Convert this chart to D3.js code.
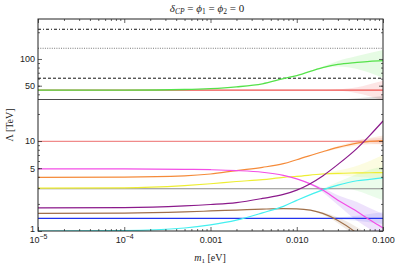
<!DOCTYPE html>
<html>
<head>
<meta charset="utf-8">
<script src="https://cdn.jsdelivr.net/npm/d3@7"></script>
<style>
  body { margin: 0; background: #fff; }
  svg { display: block; }
  .tick text { font-family: "Liberation Sans", Arial, sans-serif; font-size: 9px; fill: #222; }
  .tick line { stroke: #222; stroke-width: 0.7; }
  .lbl { font-family: "Liberation Serif", "Times New Roman", serif; font-size: 10px; fill: #222; }
</style>
</head>
<body>
<svg width="400" height="267"></svg>
<script>
// sample points along m1 [eV]
var m1 = [1e-5, 1e-4, 5e-4, 1e-3, 2e-3, 4e-3, 7e-3, 0.01, 0.02, 0.03, 0.05, 0.07, 0.1];

// upper panel (Lambda in TeV)
var dashDot = 216, dotted = 132, dashed = 60.7;
var red   = [44.5, 44.5, 44.5, 44.5, 44.5, 44.5, 44.5, 44.5, 44.5, 44.5, 44.5, 44.5, 44.5];
var green = [44.5, 44.6, 45.3, 46.3, 48.5, 52.5, 60, 65, 80, 87, 91.5, 94, 95.7];
var black = [34.6, 34.6, 34.6, 34.6, 34.6, 34.6, 34.6, 34.6, 34.6, 34.6, 34.6, 34.6, 34.6];

// lower panel
var pink    = [9.9, 9.9, 9.9, 9.9, 9.9, 9.9, 9.9, 9.9, 9.9, 9.9, 9.9, 9.9, 9.9];
var magenta = [4.9, 4.9, 4.85, 4.8, 4.7, 4.5, 4.15, 3.8, 2.85, 2.2, 1.65, 1.33, 1.08];
var orange  = [3.95, 3.97, 4.1, 4.3, 4.7, 5.1, 5.6, 6.2, 7.6, 8.5, 9.5, 9.9, 10.1];
var yellow  = [3.0, 3.02, 3.2, 3.35, 3.55, 3.72, 3.95, 4.05, 4.3, 4.38, 4.42, 4.44, 4.45];
var gray    = [2.95, 2.95, 2.95, 2.95, 2.95, 2.95, 2.95, 2.95, 2.95, 2.95, 2.95, 2.95, 2.95];
var purple  = [1.81, 1.82, 1.9, 1.97, 2.07, 2.3, 2.55, 2.85, 4.1, 5.5, 8.3, 11.5, 16.7];
var brown   = [1.57, 1.58, 1.63, 1.67, 1.71, 1.75, 1.77, 1.76, 1.57, 1.31, 0.94, 0.7, 0.5];
var blue    = [1.38, 1.38, 1.38, 1.38, 1.38, 1.38, 1.38, 1.38, 1.38, 1.38, 1.38, 1.38, 1.38];
var cyan    = [1.0, 1.01, 1.08, 1.17, 1.32, 1.59, 1.88, 2.19, 2.87, 3.24, 3.62, 3.75, 3.9];

// shaded bands at large m1
var bandM1 = [0.01, 0.02, 0.03, 0.05, 0.07, 0.1];
var greenLo = [65, 79, 82, 77, 70, 61],          greenHi = [65, 82, 95, 108, 117, 126];
var redLo = [44.5, 44.5, 44, 41, 38, 34],        redHi = [44.5, 44.5, 45.5, 48, 52, 57];
var blackLo = [34.6, 34.6, 34.6, 34.6, 34.6, 34.6], blackHi = [34.6, 34.7, 35, 36, 37, 38];
var pinkLo = [9.9, 9.9, 9.8, 9.6, 9.4, 9.2],      pinkHi = [9.9, 9.9, 10.0, 10.3, 10.6, 10.9];
var orangeLo = [6.2, 7.5, 8.2, 8.9, 9.2, 9.2],    orangeHi = [6.2, 7.7, 8.8, 10.1, 10.8, 11.5];
var yellowLo = [4.05, 4.25, 4.2, 4.0, 3.9, 3.8],  yellowHi = [4.05, 4.4, 4.7, 5.3, 6.0, 7.0];
var cyanLo = [2.19, 2.8, 3.0, 2.8, 2.5, 2.2],     cyanHi = [2.19, 2.95, 3.5, 4.3, 4.8, 5.2];
var magentaLo = [3.8, 2.7, 1.95, 1.3, 1.05, 0.85], magentaHi = [3.8, 3.0, 2.5, 2.1, 1.8, 1.55];
var brownLo = [1.76, 1.52, 1.22, 0.82, 0.55, 0.35], brownHi = [1.76, 1.62, 1.42, 1.1, 0.9, 0.72];
var blueLo = [1.38, 1.38, 1.35, 1.3, 1.25, 1.2],  blueHi = [1.38, 1.38, 1.42, 1.48, 1.55, 1.62];

var xMajor = [1e-5, 1e-4, 1e-3, 1e-2, 1e-1];
var loMajor = [1, 5, 10];
var hiMajor = [50, 100];

var svg = d3.select("svg");
var L = 38, R = 383, T = 19, B = 231, MID = 100;

var x = d3.scaleLog().domain([1e-5, 0.1]).range([L, R]);
var yLo = d3.scaleLog().domain([1, 28.6]).range([B, MID]);
var yHi = d3.scaleLog().domain([34.5, 282]).range([MID, T]);

var defs = svg.append("defs");
defs.append("clipPath").attr("id", "clipHi").append("rect")
  .attr("x", L).attr("y", T).attr("width", R - L).attr("height", MID - T);
defs.append("clipPath").attr("id", "clipLo").append("rect")
  .attr("x", L).attr("y", MID).attr("width", R - L).attr("height", B - MID);

var gHi = svg.append("g").attr("clip-path", "url(#clipHi)");
var gLo = svg.append("g").attr("clip-path", "url(#clipLo)");

function band(g, y, lo, hi, col, op) {
  var pts = bandM1.map(function(m, i) { return {m: m, lo: lo[i], hi: hi[i]}; });
  g.append("path").datum(pts)
    .attr("fill", col).attr("fill-opacity", op)
    .attr("d", d3.area().curve(d3.curveMonotoneX)
      .x(function(d) { return x(d.m); })
      .y0(function(d) { return y(d.lo); })
      .y1(function(d) { return y(d.hi); }));
}

function curve(g, y, vals, col, w) {
  var pts = m1.map(function(m, i) { return {m: m, v: vals[i]}; });
  g.append("path").datum(pts)
    .attr("fill", "none").attr("stroke", col).attr("stroke-width", w || 1.2)
    .attr("d", d3.line().curve(d3.curveMonotoneX)
      .x(function(d) { return x(d.m); })
      .y(function(d) { return y(d.v); }));
}

function hline(g, y, v, dash, col) {
  g.append("line")
    .attr("x1", L).attr("x2", R).attr("y1", y(v)).attr("y2", y(v))
    .attr("stroke", col).attr("stroke-width", 1)
    .attr("stroke-dasharray", dash);
}

// upper panel
band(gHi, yHi, greenLo, greenHi, "#55e24a", 0.15);
band(gHi, yHi, redLo, redHi, "#f0524f", 0.15);
band(gHi, yHi, blackLo, blackHi, "#555", 0.2);
hline(gHi, yHi, dashDot, "3,2,1,2", "#111");
hline(gHi, yHi, dotted, "1,1.3", "#777");
hline(gHi, yHi, dashed, "3,2", "#111");
curve(gHi, yHi, red, "#f0524f", 1.3);
curve(gHi, yHi, green, "#55e24a", 1.3);
curve(gHi, yHi, black, "#111", 1.3);

// lower panel
band(gLo, yLo, yellowLo, yellowHi, "#eeee33", 0.15);
band(gLo, yLo, cyanLo, cyanHi, "#7be87b", 0.15);
band(gLo, yLo, magentaLo, magentaHi, "#a060f0", 0.18);
band(gLo, yLo, pinkLo, pinkHi, "#f08a8a", 0.18);
band(gLo, yLo, orangeLo, orangeHi, "#f58b3a", 0.15);
band(gLo, yLo, brownLo, brownHi, "#a0704a", 0.15);
band(gLo, yLo, blueLo, blueHi, "#2233ee", 0.1);
curve(gLo, yLo, gray, "#8c8c8c");
curve(gLo, yLo, blue, "#2233ee");
curve(gLo, yLo, brown, "#a0704a");
curve(gLo, yLo, pink, "#f08a8a");
curve(gLo, yLo, yellow, "#eeee33");
curve(gLo, yLo, orange, "#f58b3a");
curve(gLo, yLo, cyan, "#44f0f0");
curve(gLo, yLo, magenta, "#f34ee6");
curve(gLo, yLo, purple, "#8b1a8b");

// axes
function minorOf(lo, hi) {
  var out = [];
  for (var e = -6; e <= 3; e++) for (var k = 2; k <= 9; k++) {
    var v = k * Math.pow(10, e);
    if (v > lo * 1.0001 && v < hi * 0.9999) out.push(v);
  }
  return out;
}
function put(gen, tx, ty) {
  var g = svg.append("g").attr("transform", "translate(" + tx + "," + ty + ")").call(gen);
  g.select(".domain").remove();
  return g;
}
var xMinor = minorOf(1e-5, 0.1);
var loMinor = minorOf(1, 28.6);
var hiMinor = minorOf(34.5, 282);

var xb = put(d3.axisBottom(x).tickValues(xMajor).tickSizeInner(-4).tickPadding(6)
  .tickFormat(function(d) { return d >= 1e-3 ? d3.format(".3f")(d) : ""; }), 0, B);
xb.selectAll(".tick text").each(function(d) {
  if (d < 1e-3) {
    var t = d3.select(this);
    t.append("tspan").text("10");
    t.append("tspan").attr("dy", -4).style("font-size", "7px").text("\u2212" + Math.round(-Math.log10(d)));
  }
});
put(d3.axisBottom(x).tickValues(xMinor).tickSizeInner(-2).tickFormat(""), 0, B);
put(d3.axisTop(x).tickValues(xMajor).tickSizeInner(-4).tickFormat(""), 0, T);
put(d3.axisTop(x).tickValues(xMinor).tickSizeInner(-2).tickFormat(""), 0, T);

[[yLo, loMajor, loMinor], [yHi, hiMajor, hiMinor]].forEach(function(s) {
  var gl = put(d3.axisLeft(s[0]).tickValues(s[1]).tickSizeInner(-4).tickPadding(3).tickFormat(d3.format("d")), L, 0);
  gl.selectAll(".tick text").filter(function(d) { return d === 1; }).attr("dy", "0.05em");
  put(d3.axisLeft(s[0]).tickValues(s[2]).tickSizeInner(-2).tickFormat(""), L, 0);
  put(d3.axisRight(s[0]).tickValues(s[1]).tickSizeInner(-4).tickFormat(""), R, 0);
  put(d3.axisRight(s[0]).tickValues(s[2]).tickSizeInner(-2).tickFormat(""), R, 0);
});

// frame
svg.append("rect").attr("x", L).attr("y", T).attr("width", R - L).attr("height", B - T)
  .attr("fill", "none").attr("stroke", "#222").attr("stroke-width", 1);

// title and labels
var title = svg.append("text").attr("class", "lbl").attr("x", 207).attr("y", 12)
  .attr("text-anchor", "middle").style("font-size", "11px");
title.append("tspan").attr("font-style", "italic").text("\u03b4");
title.append("tspan").attr("font-style", "italic").attr("dy", 2).style("font-size", "7.5px").text("CP");
title.append("tspan").attr("dy", -2).text(" = ");
title.append("tspan").attr("font-style", "italic").text("\u03d5");
title.append("tspan").attr("dy", 2).style("font-size", "7.5px").text("1");
title.append("tspan").attr("dy", -2).text(" = ");
title.append("tspan").attr("font-style", "italic").text("\u03d5");
title.append("tspan").attr("dy", 2).style("font-size", "7.5px").text("2");
title.append("tspan").attr("dy", -2).text(" = 0");

var xl = svg.append("text").attr("class", "lbl").attr("x", 210).attr("y", 261).attr("text-anchor", "middle");
xl.append("tspan").attr("font-style", "italic").text("m");
xl.append("tspan").attr("dy", 2).style("font-size", "7px").text("1");
xl.append("tspan").attr("dy", -2).text(" [eV]");

svg.append("text").attr("class", "lbl")
  .attr("transform", "translate(13,125) rotate(-90)")
  .attr("text-anchor", "middle").text("\u039b [TeV]");
</script>
</body>
</html>
